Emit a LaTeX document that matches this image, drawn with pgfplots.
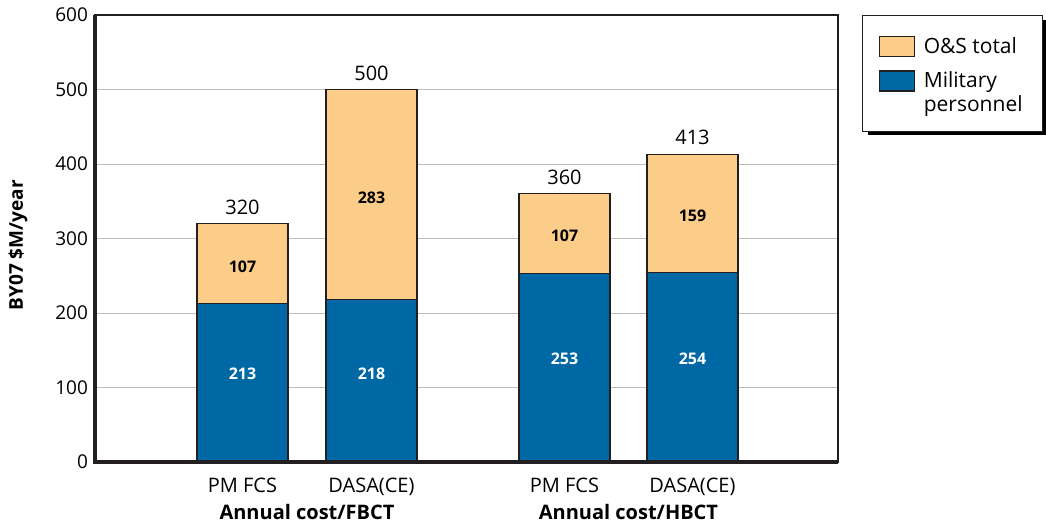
\documentclass[border=0pt]{standalone}
\usepackage{pgfplots}
\pgfplotsset{compat=1.18}
\usepackage{fontspec}
\setmainfont{Open Sans}
\definecolor{osfill}{RGB}{251,205,136}
\definecolor{milfill}{RGB}{0,104,165}
\definecolor{gridgray}{RGB}{190,190,190}
\definecolor{edge}{RGB}{35,31,32}
\pgfplotsset{
  swatch/.style={legend image code/.code={\path[draw=none, fill=none] (0pt,-9pt) rectangle (17.5pt,9pt);
    \draw[##1, line width=0.6pt] (0pt,-5pt) rectangle (17.5pt,5pt);}},
  swatch up/.style={legend image code/.code={\path[draw=none, fill=none] (0pt,-9pt) rectangle (17.5pt,9pt);
    \draw[##1, line width=0.6pt] (0pt,1pt) rectangle (17.5pt,11pt);}},
}

\begin{document}
\begin{tikzpicture}
\begin{axis}[name=ax, scale only axis, width=371.5pt, height=223.5pt, clip=false,
  xmin=95, xmax=838, ymin=0, ymax=600,
  ytick={0,100,...,600},
  xtick={242.5,371.5,564.5,692.5},
  xticklabels={PM FCS,DASA(CE),PM FCS,DASA(CE)},
  extra x ticks={307,628.5},
  extra x tick labels={Annual cost/FBCT,Annual cost/HBCT},
  major tick length=0pt,
  ymajorgrids, grid style={gridgray, line width=0.5pt},
  axis line style={line width=0.6pt, edge},
  y tick label style={font=\fontsize{9.5}{11}\selectfont},
  x tick label style={font=\fontsize{10}{12}\selectfont, yshift=-4.5pt},
  extra x tick style={grid=none, x tick label style={font=\fontsize{10}{12}\selectfont\bfseries, yshift=-13pt}},
  /pgf/number format/assume math mode=true,
  ylabel={BY07 \$M/year},
  every axis y label/.style={at={(axis description cs:-0.1036,0.485)}, rotate=90, anchor=center,
    font=\fontsize{9.5}{11}\selectfont\bfseries},
  legend style={at={(1.0323,1)}, anchor=north west, draw=edge, line width=0.6pt, fill=white,
    font=\fontsize{10.5}{12}\selectfont, inner xsep=8pt, inner ysep=6.5pt, row sep=1.5pt,
    column sep=2.5pt, cells={align=left}},
  legend cell align=left,
]
% O&S total drawn to the full bar height, military personnel over it
\addplot[ybar, bar width=91, bar shift=0pt, fill=osfill, draw=edge, line width=0.6pt, swatch,
  nodes near coords, every node near coord/.append style={anchor=south, yshift=1pt, text=black,
    font=\fontsize{10}{12}\selectfont}]
  coordinates {(242.5,320) (371.5,500) (564.5,360) (692.5,413)};
\addlegendentry{O\&S total}
\addplot[ybar, bar width=91, bar shift=0pt, fill=milfill, draw=edge, line width=0.6pt, swatch up]
  coordinates {(242.5,213) (371.5,218) (564.5,253) (692.5,254)};
\addlegendentry{Military\\personnel}
% segment values
\addplot[draw=none, mark=none, forget plot, nodes near coords, point meta=explicit symbolic,
  every node near coord/.style={anchor=center, text=white, font=\fontsize{8}{10}\selectfont\bfseries}]
  table[meta=lab] {
x y lab
242.5 118 213
371.5 118 218
564.5 138 253
692.5 138 254
};
\addplot[draw=none, mark=none, forget plot, nodes near coords, point meta=explicit symbolic,
  every node near coord/.style={anchor=center, text=black, font=\fontsize{8}{10}\selectfont\bfseries}]
  table[meta=lab] {
x y lab
242.5 262 107
371.5 354 283
564.5 303 107
692.5 331 159
};
% legend shadow
\fill[black] (axis description cs:1.0404,0.7427) rectangle (axis description cs:1.2826,0.7315);
\fill[black] (axis description cs:1.2759,0.9888) rectangle (axis description cs:1.2826,0.7315);
\end{axis}
\draw[line width=2pt, edge] (ax.north west) -- (ax.south west) -- (ax.south east);
\pgfresetboundingbox
\path (ax.south west) ++(-47.5pt,-32.5pt) rectangle ++(523pt,263.5pt);
\end{tikzpicture}
\end{document}
